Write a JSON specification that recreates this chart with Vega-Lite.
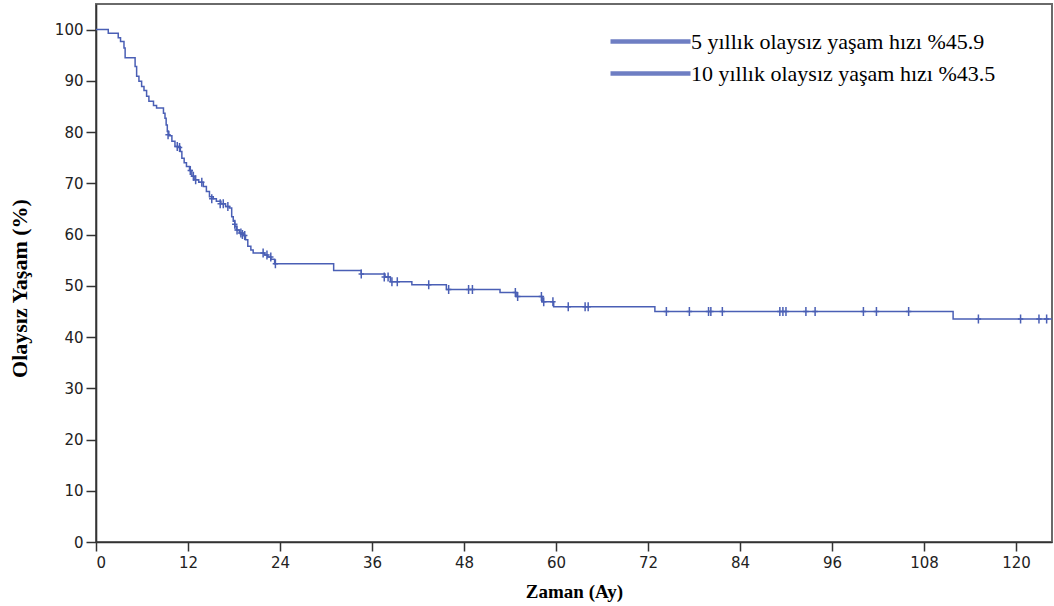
{
  "$schema": "https://vega.github.io/schema/vega-lite/v6.json",
  "width": 956,
  "height": 538,
  "autosize": {"type": "none"},
  "padding": {"left": 96, "top": 4, "right": 2, "bottom": 64},
  "background": "white",
  "config": {
    "view": {"stroke": "#6a6a6a", "strokeWidth": 2},
    "axis": {
      "domainColor": "#333333",
      "domainWidth": 1.6,
      "tickColor": "#333333",
      "tickWidth": 1.5,
      "grid": false,
      "labelFont": "DejaVu Sans",
      "labelFontSize": 15,
      "labelColor": "#222222",
      "titleFont": "Liberation Serif",
      "titleFontWeight": "bold",
      "titleColor": "#000000"
    }
  },
  "datasets": {
    "km": [
      {"t": 0, "s": 100, "series": "5 yıllık olaysız yaşam hızı %45.9"},
      {"t": 1.6, "s": 99.3, "series": "5 yıllık olaysız yaşam hızı %45.9"},
      {"t": 2.9, "s": 98.4, "series": "5 yıllık olaysız yaşam hızı %45.9"},
      {"t": 3.2, "s": 97.7, "series": "5 yıllık olaysız yaşam hızı %45.9"},
      {"t": 3.65, "s": 96.4, "series": "5 yıllık olaysız yaşam hızı %45.9"},
      {"t": 3.8, "s": 94.5, "series": "5 yıllık olaysız yaşam hızı %45.9"},
      {"t": 5.1, "s": 92.8, "series": "5 yıllık olaysız yaşam hızı %45.9"},
      {"t": 5.3, "s": 90.9, "series": "5 yıllık olaysız yaşam hızı %45.9"},
      {"t": 5.6, "s": 89.9, "series": "5 yıllık olaysız yaşam hızı %45.9"},
      {"t": 5.95, "s": 88.9, "series": "5 yıllık olaysız yaşam hızı %45.9"},
      {"t": 6.26, "s": 88.1, "series": "5 yıllık olaysız yaşam hızı %45.9"},
      {"t": 6.6, "s": 87.0, "series": "5 yıllık olaysız yaşam hızı %45.9"},
      {"t": 6.9, "s": 86.0, "series": "5 yıllık olaysız yaşam hızı %45.9"},
      {"t": 7.5, "s": 85.2, "series": "5 yıllık olaysız yaşam hızı %45.9"},
      {"t": 7.9, "s": 84.7, "series": "5 yıllık olaysız yaşam hızı %45.9"},
      {"t": 8.8, "s": 83.7, "series": "5 yıllık olaysız yaşam hızı %45.9"},
      {"t": 9.0, "s": 82.7, "series": "5 yıllık olaysız yaşam hızı %45.9"},
      {"t": 9.15, "s": 81.4, "series": "5 yıllık olaysız yaşam hızı %45.9"},
      {"t": 9.3, "s": 80.1, "series": "5 yıllık olaysız yaşam hızı %45.9"},
      {"t": 9.5, "s": 79.3, "series": "5 yıllık olaysız yaşam hızı %45.9"},
      {"t": 9.9, "s": 78.2, "series": "5 yıllık olaysız yaşam hızı %45.9"},
      {"t": 10.3, "s": 77.2, "series": "5 yıllık olaysız yaşam hızı %45.9"},
      {"t": 11.0, "s": 76.2, "series": "5 yıllık olaysız yaşam hızı %45.9"},
      {"t": 11.2, "s": 74.9, "series": "5 yıllık olaysız yaşam hızı %45.9"},
      {"t": 11.5, "s": 74.0, "series": "5 yıllık olaysız yaşam hızı %45.9"},
      {"t": 11.8, "s": 73.3, "series": "5 yıllık olaysız yaşam hızı %45.9"},
      {"t": 12.2, "s": 72.5, "series": "5 yıllık olaysız yaşam hızı %45.9"},
      {"t": 12.5, "s": 71.4, "series": "5 yıllık olaysız yaşam hızı %45.9"},
      {"t": 12.8, "s": 70.7, "series": "5 yıllık olaysız yaşam hızı %45.9"},
      {"t": 13.4, "s": 70.2, "series": "5 yıllık olaysız yaşam hızı %45.9"},
      {"t": 14.0, "s": 69.4, "series": "5 yıllık olaysız yaşam hızı %45.9"},
      {"t": 14.4, "s": 68.4, "series": "5 yıllık olaysız yaşam hızı %45.9"},
      {"t": 14.8, "s": 67.4, "series": "5 yıllık olaysız yaşam hızı %45.9"},
      {"t": 15.3, "s": 67.0, "series": "5 yıllık olaysız yaşam hızı %45.9"},
      {"t": 15.7, "s": 66.5, "series": "5 yıllık olaysız yaşam hızı %45.9"},
      {"t": 16.3, "s": 66.0, "series": "5 yıllık olaysız yaşam hızı %45.9"},
      {"t": 16.9, "s": 65.5, "series": "5 yıllık olaysız yaşam hızı %45.9"},
      {"t": 17.4, "s": 65.2, "series": "5 yıllık olaysız yaşam hızı %45.9"},
      {"t": 17.7, "s": 63.5, "series": "5 yıllık olaysız yaşam hızı %45.9"},
      {"t": 17.9, "s": 62.6, "series": "5 yıllık olaysız yaşam hızı %45.9"},
      {"t": 18.1, "s": 61.6, "series": "5 yıllık olaysız yaşam hızı %45.9"},
      {"t": 18.3, "s": 60.9, "series": "5 yıllık olaysız yaşam hızı %45.9"},
      {"t": 18.7, "s": 60.3, "series": "5 yıllık olaysız yaşam hızı %45.9"},
      {"t": 19.2, "s": 59.8, "series": "5 yıllık olaysız yaşam hızı %45.9"},
      {"t": 19.5, "s": 59.0, "series": "5 yıllık olaysız yaşam hızı %45.9"},
      {"t": 19.8, "s": 57.7, "series": "5 yıllık olaysız yaşam hızı %45.9"},
      {"t": 20.2, "s": 57.0, "series": "5 yıllık olaysız yaşam hızı %45.9"},
      {"t": 20.5, "s": 56.4, "series": "5 yıllık olaysız yaşam hızı %45.9"},
      {"t": 22.0, "s": 56.0, "series": "5 yıllık olaysız yaşam hızı %45.9"},
      {"t": 22.4, "s": 55.6, "series": "5 yıllık olaysız yaşam hızı %45.9"},
      {"t": 22.8, "s": 55.2, "series": "5 yıllık olaysız yaşam hızı %45.9"},
      {"t": 23.3, "s": 54.3, "series": "5 yıllık olaysız yaşam hızı %45.9"},
      {"t": 31.0, "s": 53.0, "series": "5 yıllık olaysız yaşam hızı %45.9"},
      {"t": 34.6, "s": 52.3, "series": "5 yıllık olaysız yaşam hızı %45.9"},
      {"t": 37.7, "s": 51.7, "series": "5 yıllık olaysız yaşam hızı %45.9"},
      {"t": 38.4, "s": 50.8, "series": "5 yıllık olaysız yaşam hızı %45.9"},
      {"t": 41.2, "s": 50.2, "series": "5 yıllık olaysız yaşam hızı %45.9"},
      {"t": 45.7, "s": 49.3, "series": "5 yıllık olaysız yaşam hızı %45.9"},
      {"t": 52.7, "s": 48.7, "series": "5 yıllık olaysız yaşam hızı %45.9"},
      {"t": 54.8, "s": 47.9, "series": "5 yıllık olaysız yaşam hızı %45.9"},
      {"t": 58.2, "s": 46.9, "series": "5 yıllık olaysız yaşam hızı %45.9"},
      {"t": 59.7, "s": 45.9, "series": "5 yıllık olaysız yaşam hızı %45.9"},
      {"t": 72.9, "s": 45.0, "series": "5 yıllık olaysız yaşam hızı %45.9"},
      {"t": 111.8, "s": 43.5, "series": "5 yıllık olaysız yaşam hızı %45.9"},
      {"t": 124.7, "s": 43.5, "series": "5 yıllık olaysız yaşam hızı %45.9"}
    ],
    "cens": [
      {"t": 9.4, "s": 79.5}, {"t": 10.6, "s": 77.2}, {"t": 10.9, "s": 77.0},
      {"t": 12.3, "s": 72.5}, {"t": 12.7, "s": 71.4}, {"t": 13.0, "s": 70.7},
      {"t": 13.8, "s": 70.2}, {"t": 15.1, "s": 67.0}, {"t": 16.2, "s": 66.0},
      {"t": 16.6, "s": 66.0}, {"t": 17.2, "s": 65.5}, {"t": 18.1, "s": 62.0},
      {"t": 18.4, "s": 60.9}, {"t": 18.9, "s": 60.3}, {"t": 19.1, "s": 60.0},
      {"t": 19.4, "s": 59.8}, {"t": 21.8, "s": 56.4}, {"t": 22.3, "s": 56.0},
      {"t": 22.8, "s": 55.6}, {"t": 23.4, "s": 54.3}, {"t": 34.6, "s": 52.3},
      {"t": 37.6, "s": 51.7}, {"t": 38.1, "s": 51.7}, {"t": 38.6, "s": 50.8},
      {"t": 39.3, "s": 50.8}, {"t": 43.4, "s": 50.2}, {"t": 46.0, "s": 49.3},
      {"t": 48.6, "s": 49.3}, {"t": 49.1, "s": 49.3}, {"t": 54.7, "s": 48.7},
      {"t": 55.0, "s": 47.9}, {"t": 58.1, "s": 47.9}, {"t": 58.4, "s": 46.9},
      {"t": 59.6, "s": 46.9}, {"t": 61.6, "s": 45.9}, {"t": 63.8, "s": 45.9},
      {"t": 64.2, "s": 45.9}, {"t": 74.4, "s": 45.0}, {"t": 77.4, "s": 45.0},
      {"t": 79.9, "s": 45.0}, {"t": 80.2, "s": 45.0}, {"t": 81.7, "s": 45.0},
      {"t": 89.2, "s": 45.0}, {"t": 89.6, "s": 45.0}, {"t": 90.0, "s": 45.0},
      {"t": 92.6, "s": 45.0}, {"t": 93.8, "s": 45.0}, {"t": 100.1, "s": 45.0},
      {"t": 101.8, "s": 45.0}, {"t": 106.0, "s": 45.0}, {"t": 115.1, "s": 43.5},
      {"t": 120.6, "s": 43.5}, {"t": 123.0, "s": 43.5}, {"t": 124.0, "s": 43.5}
    ]
  },
  "layer": [
    {
      "data": {"name": "km"},
      "mark": {"type": "line", "interpolate": "step-after", "strokeWidth": 1.5},
      "encoding": {
        "x": {
          "field": "t", "type": "quantitative",
          "scale": {"domain": [0, 124.7], "nice": false, "zero": false},
          "axis": {
            "title": "Zaman (Ay)",
            "values": [0, 12, 24, 36, 48, 60, 72, 84, 96, 108, 120],
            "tickSize": 9, "labelPadding": 4,
            "titleFontSize": 19, "titlePadding": 12
          }
        },
        "y": {
          "field": "s", "type": "quantitative",
          "scale": {"domain": [0, 105], "nice": false},
          "axis": {
            "title": "Olaysız Yaşam (%)",
            "values": [0, 10, 20, 30, 40, 50, 60, 70, 80, 90, 100],
            "tickSize": 10, "labelPadding": 3,
            "titleFontSize": 22, "titlePadding": 23, "titleY": 284
          }
        },
        "color": {
          "field": "series", "type": "nominal",
          "scale": {
            "domain": ["5 yıllık olaysız yaşam hızı %45.9", "10 yıllık olaysız yaşam hızı %43.5"],
            "range": ["#4a5fb5", "#4a5fb5"]
          },
          "legend": {
            "title": null,
            "orient": "none",
            "legendX": 542,
            "legendY": 25,
            "symbolType": "M-4,0H4",
            "symbolSize": 400,
            "symbolStrokeWidth": 4.5,
            "symbolOpacity": 0.8,
            "labelFont": "Liberation Serif",
            "labelFontSize": 22,
            "labelColor": "#000000",
            "labelOffset": 28,
            "labelLimit": 500,
            "rowPadding": 8
          }
        }
      }
    },
    {
      "data": {"name": "cens"},
      "mark": {
        "type": "point",
        "shape": "M0,-1V1M-0.6,0H0.6",
        "filled": false,
        "size": 81,
        "strokeWidth": 1.5,
        "color": "#4a5fb5",
        "opacity": 1
      },
      "encoding": {
        "x": {"field": "t", "type": "quantitative"},
        "y": {"field": "s", "type": "quantitative"}
      }
    }
  ]
}
